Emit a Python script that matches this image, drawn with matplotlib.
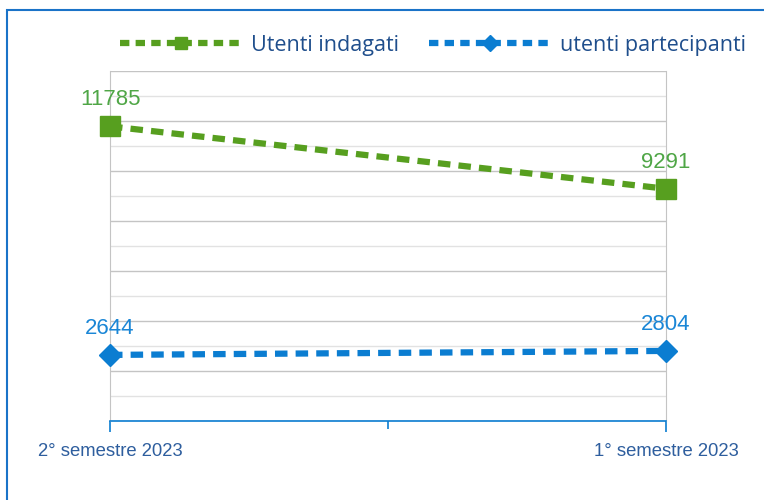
import matplotlib.pyplot as plt
from matplotlib.lines import Line2D
from matplotlib.patches import Rectangle
from matplotlib.ticker import MultipleLocator

periodi = ["2° semestre 2023", "1° semestre 2023"]
utenti_indagati = [11785, 9291]
utenti_partecipanti = [2644, 2804]

verde = '#579F1F'
verde_lbl = '#4FA646'
blu = '#0B7DD1'
blu_lbl = '#1A86D6'
blu_testo = '#1F4E8C'

fig = plt.figure(figsize=(7.64, 5.0), dpi=100)
ax = fig.add_axes([110 / 764, 79 / 500, 556 / 764, 350 / 500])

x = list(range(len(periodi)))
ax.plot(x, utenti_indagati, color=verde, lw=4.5, dashes=(2.0, 1.3),
        marker='s', ms=14, zorder=3, clip_on=False)
ax.plot(x, utenti_partecipanti, color=blu, lw=4.5, dashes=(2.0, 1.3),
        marker='D', ms=11, zorder=3, clip_on=False)

for xi, v in zip(x, utenti_indagati):
    ax.annotate(str(v), (xi, v), xytext=(0, 11.5), textcoords='offset points',
                ha='center', va='bottom', color=verde_lbl, fontsize=16,
                family='Liberation Sans')
for xi, v in zip(x, utenti_partecipanti):
    ax.annotate(str(v), (xi, v), xytext=(0, 11.5), textcoords='offset points',
                ha='center', va='bottom', color=blu_lbl, fontsize=16,
                family='Liberation Sans')

ax.set_xlim(0, len(periodi) - 1)
ax.set_ylim(0, 14000)
ax.yaxis.set_major_locator(MultipleLocator(2000))
ax.yaxis.set_minor_locator(MultipleLocator(1000))
ax.grid(True, which='major', axis='y', color='#c4c4c4', lw=1)
ax.grid(True, which='minor', axis='y', color='#e2e2e2', lw=1)
ax.tick_params(axis='y', which='both', left=False, labelleft=False)

ax.set_xticks(x)
ax.set_xticklabels(periodi, family='Liberation Sans', fontsize=13.3, color='#2E5E9E')
ax.set_xticks([0.5], minor=True)
ax.tick_params(axis='x', which='major', direction='out', length=8, width=1.2,
               color=blu, pad=8)
ax.tick_params(axis='x', which='minor', direction='out', length=6, width=1.2,
               color=blu)

ax.spines['top'].set_visible(False)
ax.spines['left'].set_color('#c4c4c4')
ax.spines['right'].set_color('#c4c4c4')
ax.spines['bottom'].set_color(blu)
ax.spines['bottom'].set_linewidth(1.2)
ax.set_axisbelow(True)

handles = [
    Line2D([], [], color=verde, lw=4.5, dashes=(1.5, 1.0), marker='s', ms=9),
    Line2D([], [], color=blu, lw=4.5, dashes=(1.5, 1.0), marker='D', ms=8),
]
fig.legend(handles, ["Utenti indagati", "utenti partecipanti"], loc='center',
           bbox_to_anchor=(433 / 764, 1 - 45 / 500), ncol=2, frameon=False,
           numpoints=1, handlelength=5.7, handletextpad=0.4, columnspacing=1.4,
           prop={'family': 'Open Sans', 'size': 15.5}, labelcolor=blu_testo)

# cornice blu tagliata a destra e in basso
fig.patches.append(Rectangle((7 / 764, -0.1), 2, 1.1 - 10 / 500,
                             transform=fig.transFigure, fill=False,
                             edgecolor='#1A73C8', lw=1.5))

fig.savefig('out.png', dpi=100)
